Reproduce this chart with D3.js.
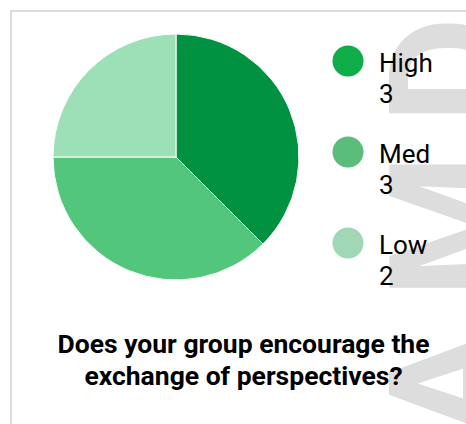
<!DOCTYPE html>
<html>
<head>
<meta charset="utf-8">
<script src="https://cdn.jsdelivr.net/npm/d3@7"></script>
<style>
  html, body { margin: 0; padding: 0; background: #fff; }
  svg { display: block; }
</style>
</head>
<body>
<svg id="chart" width="466" height="424"></svg>
<script>
const categories = ["High", "Med", "Low"];
const values = [3, 3, 2];
const sliceColors = ["#009240", "#52c77b", "#9ddfb6"];
const legendColors = ["#0fac4a", "#5bbd7c", "#a0d8b6"];
const titleLines = ["Does your group encourage the", "exchange of perspectives?"];
const watermarkText = "AMD";

const svg = d3.select("#chart");

// card frame
svg.append("rect")
  .attr("x", 11).attr("y", 11)
  .attr("width", 600).attr("height", 600)
  .attr("fill", "#fff")
  .attr("stroke", "#dcdcdc").attr("stroke-width", 2);

// watermark (behind content)
svg.append("text")
  .attr("transform", "translate(507,439) rotate(-90)")
  .attr("text-anchor", "start")
  .attr("font-family", "Roboto")
  .attr("font-weight", "bold")
  .attr("font-size", 165)
  .attr("letter-spacing", 30)
  .attr("fill", "#dddddd")
  .text(watermarkText);

// pie
const cx = 176, cy = 157, r = 123;
const pie = d3.pie().sort(null).value(d => d.v);
const data = categories.map((c, i) => ({ c, v: values[i], i }));
const arc = d3.arc().innerRadius(0).outerRadius(r);
const color = d3.scaleOrdinal().domain(categories).range(sliceColors);
const lcolor = d3.scaleOrdinal().domain(categories).range(legendColors);

svg.append("g")
  .attr("transform", `translate(${cx},${cy})`)
  .selectAll("path")
  .data(pie(data))
  .join("path")
  .attr("d", arc)
  .attr("fill", d => color(d.data.c))
  .attr("stroke", "#fff")
  .attr("stroke-width", 1);

// legend
const ly = d3.scalePoint().domain(categories).range([61, 243]);
const lg = svg.append("g");
const items = lg.selectAll("g").data(data).join("g")
  .attr("transform", d => `translate(0,${ly(d.c)})`);
items.append("circle")
  .attr("cx", 348).attr("cy", 0).attr("r", 15.5)
  .attr("fill", d => lcolor(d.c));
items.append("text")
  .attr("x", 379).attr("y", 10.5)
  .attr("font-family", "Roboto").attr("font-size", 26)
  .attr("fill", "#000")
  .text(d => d.c);
items.append("text")
  .attr("x", 379).attr("y", 42)
  .attr("font-family", "Roboto").attr("font-size", 26)
  .attr("fill", "#000")
  .text(d => d.v);

// title
svg.append("g").selectAll("text").data(titleLines).join("text")
  .attr("x", 243.5).attr("y", (d, i) => 353 + i * 32)
  .attr("text-anchor", "middle")
  .attr("font-family", "Roboto").attr("font-weight", "bold").attr("font-size", 26.5)
  .attr("fill", "#000")
  .text(d => d);
</script>
</body>
</html>
